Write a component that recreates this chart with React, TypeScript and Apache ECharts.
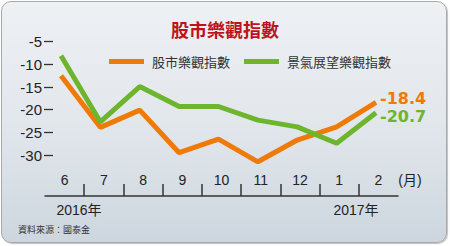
import React, { useEffect, useRef } from "react";
import * as echarts from "echarts";

const months = ["6", "7", "8", "9", "10", "11", "12", "1", "2"];
const stockIndex = [-12.5, -23.9, -20.1, -29.5, -26.5, -31.5, -26.7, -23.8, -18.4];
const outlookIndex = [-8.1, -22.7, -14.9, -19.3, -19.3, -22.3, -23.8, -27.4, -20.7];
const yMin = -30;
const yMax = -5;
const yInterval = 5;
const seriesNames = ["股市樂觀指數", "景氣展望樂觀指數"];
const endLabels = ["-18.4", "-20.7"];
const yearLabels = ["2016年", "2017年"];

const ORANGE = "#ef7a06";
const GREEN = "#6db52c";

export default function App() {
  const ref = useRef<HTMLDivElement>(null);

  useEffect(() => {
    document.body.style.margin = "0";
    if (!ref.current) return;
    const chart = echarts.init(ref.current, undefined, { renderer: "svg" });
    const font = "'Liberation Sans', Arial, 'Noto Sans CJK TC', sans-serif";
    const grids = [
      { left: 45, right: 52, top: 41.7, bottom: 91 },
      { left: 61, right: 74, top: 41.7, bottom: 91 },
      { left: 84, right: 91, top: 41.7, bottom: 91 },
    ];
    chart.setOption({
      animation: false,
      grid: grids,
      title: {
        text: "股市樂觀指數",
        left: "center",
        top: 15,
        textStyle: {
          fontFamily: "'Noto Sans CJK TC', sans-serif",
          fontSize: 18,
          fontWeight: "bold",
          color: "#c0121e",
        },
      },
      legend: {
        left: 104,
        top: 50,
        icon: "rect",
        itemWidth: 35,
        itemHeight: 5,
        itemGap: 14,
        data: seriesNames,
        textStyle: {
          fontFamily: "'Noto Sans CJK TC', sans-serif",
          fontSize: 13,
          color: "#333",
          padding: [0, 0, 0, 3],
        },
      },
      xAxis: [
        {
          type: "category",
          gridIndex: 0,
          data: months,
          boundaryGap: true,
          position: "bottom",
          offset: 41,
          axisLine: { show: true, lineStyle: { color: "#333", width: 1.5 } },
          axisTick: { show: false },
          axisLabel: {
            inside: true,
            margin: 9,
            fontFamily: font,
            fontSize: 14,
            color: "#222",
            interval: 0,
          },
        },
        {
          type: "category",
          gridIndex: 1,
          data: months,
          boundaryGap: false,
          show: false,
        },
        {
          type: "category",
          gridIndex: 2,
          data: months.slice(1),
          boundaryGap: false,
          position: "bottom",
          offset: 41,
          axisLine: { show: true, lineStyle: { color: "rgba(0,0,0,0)", width: 0 } },
          axisLabel: { show: false },
          axisTick: {
            show: true,
            inside: true,
            length: 12,
            interval: 0,
            lineStyle: { color: "#333", width: 1.5 },
          },
        },
      ],
      yAxis: [
        { type: "value", gridIndex: 0, min: yMin, max: yMax, interval: yInterval, show: false },
        {
          type: "value",
          gridIndex: 1,
          min: yMin,
          max: yMax,
          interval: yInterval,
          offset: 8,
          axisLine: { show: true, lineStyle: { color: "rgba(0,0,0,0)", width: 0 } },
          axisTick: { show: true, length: 9, lineStyle: { color: "#333", width: 1.3 } },
          splitLine: { show: false },
          axisLabel: { margin: 11, fontFamily: font, fontSize: 15, color: "#222" },
        },
        { type: "value", gridIndex: 2, min: yMin, max: yMax, interval: yInterval, show: false },
      ],
      series: [
        {
          name: seriesNames[0],
          type: "line",
          xAxisIndex: 1,
          yAxisIndex: 1,
          data: stockIndex,
          symbol: "none",
          clip: false,
          lineStyle: { color: ORANGE, width: 5 },
          itemStyle: { color: ORANGE },
          endLabel: {
            show: true,
            formatter: () => endLabels[0],
            distance: 4,
            offset: [0, -4],
            fontFamily: "'DejaVu Sans', sans-serif",
            fontWeight: "bold",
            fontSize: 16,
            color: ORANGE,
          },
        },
        {
          name: seriesNames[1],
          type: "line",
          xAxisIndex: 1,
          yAxisIndex: 1,
          data: outlookIndex,
          symbol: "none",
          clip: false,
          lineStyle: { color: GREEN, width: 5 },
          itemStyle: { color: GREEN },
          endLabel: {
            show: true,
            formatter: () => endLabels[1],
            distance: 4,
            offset: [0, 4],
            fontFamily: "'DejaVu Sans', sans-serif",
            fontWeight: "bold",
            fontSize: 16,
            color: GREEN,
          },
        },
      ],
      graphic: [
        {
          type: "text",
          x: 79,
          y: 210,
          style: {
            text: yearLabels[0],
            font: "14px 'Liberation Sans', 'Noto Sans CJK TC', sans-serif",
            fill: "#222",
            align: "center",
            verticalAlign: "middle",
          },
        },
        {
          type: "text",
          x: 356,
          y: 210,
          style: {
            text: yearLabels[1],
            font: "14px 'Liberation Sans', 'Noto Sans CJK TC', sans-serif",
            fill: "#222",
            align: "center",
            verticalAlign: "middle",
          },
        },
        {
          type: "text",
          x: 410,
          y: 180,
          style: {
            text: "(月)",
            font: "14px 'Liberation Sans', 'Noto Sans CJK TC', sans-serif",
            fill: "#222",
            align: "center",
            verticalAlign: "middle",
          },
        },
        {
          type: "text",
          x: 18,
          y: 229,
          style: {
            text: "資料來源：國泰金",
            font: "9px 'Noto Sans CJK TC', sans-serif",
            fill: "#333",
            align: "left",
            verticalAlign: "middle",
          },
        },
      ],
    });
    return () => chart.dispose();
  }, []);

  return (
    <div style={{ position: "fixed", left: 0, top: 0, width: 450, height: 246, background: "#fff" }}>
      <div
        style={{
          position: "absolute",
          left: 1,
          top: 1,
          width: 444,
          height: 240,
          border: "1px solid #a9a9a9",
          borderRadius: 10,
          background: "linear-gradient(to bottom, #eef1f4 0%, #e2e7ec 50%, #cdd6de 100%)",
          boxShadow: "1px 1px 1px rgba(0,0,0,0.25)",
        }}
      />
      <div ref={ref} style={{ position: "absolute", left: 0, top: 0, width: 450, height: 246 }} />
    </div>
  );
}
